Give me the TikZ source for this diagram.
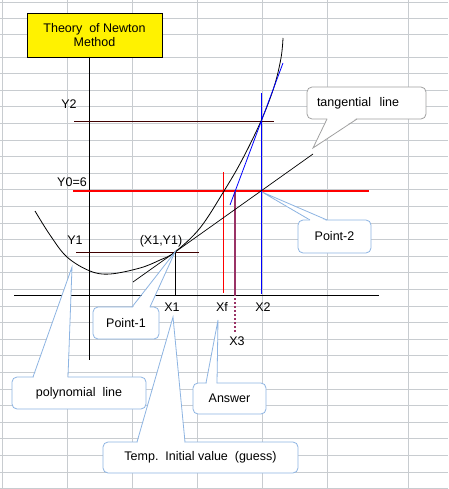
\documentclass[tikz,border=0pt]{standalone}
\usepackage{fontspec}
\setmainfont{Liberation Sans}
\definecolor{gridc}{RGB}{200,204,208}
\definecolor{callc}{RGB}{141,180,226}
\definecolor{grayc}{RGB}{160,160,160}
\definecolor{brownc}{RGB}{64,0,0}
\definecolor{plum}{RGB}{153,51,102}
\begin{document}
\begin{tikzpicture}[x=1pt,y=-1pt,font=\fontsize{12.5}{14}\selectfont,
  gridline/.style={draw=gridc,line width=0.8pt},
  callout/.style={draw=callc,fill=white,rounded corners=5pt,line width=0.8pt,inner sep=0pt},
  callline/.style={draw=callc,line width=0.8pt,line join=miter},
  lbl/.style={inner sep=0pt}]
\useasboundingbox (0,0) rectangle (448,489);
% grid
\foreach \x in {2,67,132,197,262,327,408} \draw[gridline] (\x,0) -- (\x,489);
\foreach \y in {2,18,34} \draw[gridline] (0,\y) -- (448,\y);
\foreach \k in {0,...,26} \draw[gridline] (0,57+16.6*\k) -- (448,57+16.6*\k);
% title
\node[draw=black,fill=yellow,line width=0.8pt,minimum width=135,minimum height=44,inner sep=0pt,align=center] (title) at (94.5,35) {Theory\ \ of Newton\\Method};
% axes
\coordinate (vtop) at (89,57);
\coordinate (vbot) at (89,360);
\draw[line width=0.8pt] (vtop) -- (vbot);
\coordinate (hl) at (14,295);
\coordinate (hr) at (379,295);
\draw[line width=0.8pt] (hl) -- (hr);
% horizontal levels
\coordinate (y2l) at (74,121.5); \coordinate (y2r) at (274,121.5);
\draw[brownc,line width=0.8pt] (y2l) -- (y2r);
\coordinate (y0l) at (73,191); \coordinate (y0r) at (369,191);
\draw[red,line width=2.4pt] (y0l) -- (y0r);
\coordinate (y1l) at (76,252.5); \coordinate (y1r) at (199,252.5);
\draw[brownc,line width=0.8pt] (y1l) -- (y1r);
% verticals
\coordinate (p1) at (175,252);
\coordinate (x1b) at (175,295);
\draw[line width=0.8pt] (p1) -- (x1b);
\coordinate (xft) at (223,172); \coordinate (xfb) at (223,293);
\draw[red,line width=0.8pt] (xft) -- (xfb);
\coordinate (x2t) at (261,93); \coordinate (x2b) at (261,294);
\draw[blue,line width=0.8pt] (x2t) -- (x2b);
\coordinate (x3t) at (235,191); \coordinate (x3m) at (235,294); \coordinate (x3b) at (235,332);
\draw[plum,line width=2.4pt] (x3t) -- (x3m);
\draw[plum,line width=2.4pt,dash pattern=on 2pt off 2pt] (x3m) -- (x3b);
% curve
\draw[black,line width=0.8pt] plot[smooth,tension=0.6] coordinates {(35,211) (50,235) (67,257) (90,271) (110,274) (140,268) (160,260) (175,252) (200,228) (224,191) (242,160) (261,121) (274,87) (281,58) (283,38)};
% tangent lines
\coordinate (t1a) at (133,282); \coordinate (t1b) at (313,154);
\draw[black,line width=0.7pt] (t1a) -- (t1b);
\coordinate (t2a) at (230,205); \coordinate (t2b) at (283,63);
\draw[blue,line width=0.8pt] (t2a) -- (t2b);
% labels
\node[lbl] (ly2) at (69,104) {Y2};
\node[lbl] (ly0) at (72,182) {Y0=6};
\node[lbl] (ly1) at (75,240) {Y1};
\node[lbl] (lxy) at (161,241) {(X1,Y1)};
\node[lbl] (lx1) at (172,307) {X1};
\node[lbl] (lxf) at (222,307) {Xf};
\node[lbl] (lx2) at (263,307) {X2};
\node[lbl] (lx3) at (237,341) {X3};
% callouts
% tangential line
\node[callout,draw=grayc,minimum width=119,minimum height=32,text width=99,align=left] (tang) at (366.5,103) {tangential\ \ line\vphantom{g}\\[-3pt]};
\coordinate (tangtip) at (313,148);
\fill[white] (327.5,118) -- (tangtip) -- (356.5,118) -- cycle;
\draw[grayc,line width=0.8pt] (327,119) -- (tangtip) -- (357,119);
% Point-2
\node[callout,minimum width=73,minimum height=33] (pt2) at (334.5,236.5) {Point-2};
\coordinate (pt2tip) at (262,192);
\fill[white] (310.5,221) -- (pt2tip) -- (326.5,221) -- cycle;
\draw[callline] (310,220) -- (pt2tip) -- (327,220);
% Point-1
\node[callout,minimum width=66,minimum height=32] (pt1) at (126,323) {Point-1};
\fill[white] (132.5,308) -- (p1) -- (149.5,308) -- cycle;
\draw[callline] (132,307) -- (p1) -- (150,307);
% polynomial line
\node[callout,minimum width=134,minimum height=32] (poly) at (79,393) {polynomial\ \ line};
\coordinate (polytip) at (72,267);
\fill[white] (33.5,378) -- (polytip) -- (67.5,378) -- cycle;
\draw[callline] (33,377) -- (polytip) -- (68,377);
% Answer
\node[callout,minimum width=73,minimum height=31] (ans) at (229.5,398.5) {Answer};
\coordinate (anstip) at (218,320);
\fill[white] (206.5,384) -- (anstip) -- (216.5,384) -- cycle;
\draw[callline] (206,383) -- (anstip) -- (217,383);
% Temp
\node[callout,minimum width=195,minimum height=31] (temp) at (200.5,457.5) {Temp.\ \ Initial value\ \ (guess)};
\coordinate (temptip) at (173,317);
\fill[white] (137.5,443) -- (temptip) -- (184.5,443) -- cycle;
\draw[callline] (137,442) -- (temptip) -- (185,442);
\end{tikzpicture}
\end{document}
